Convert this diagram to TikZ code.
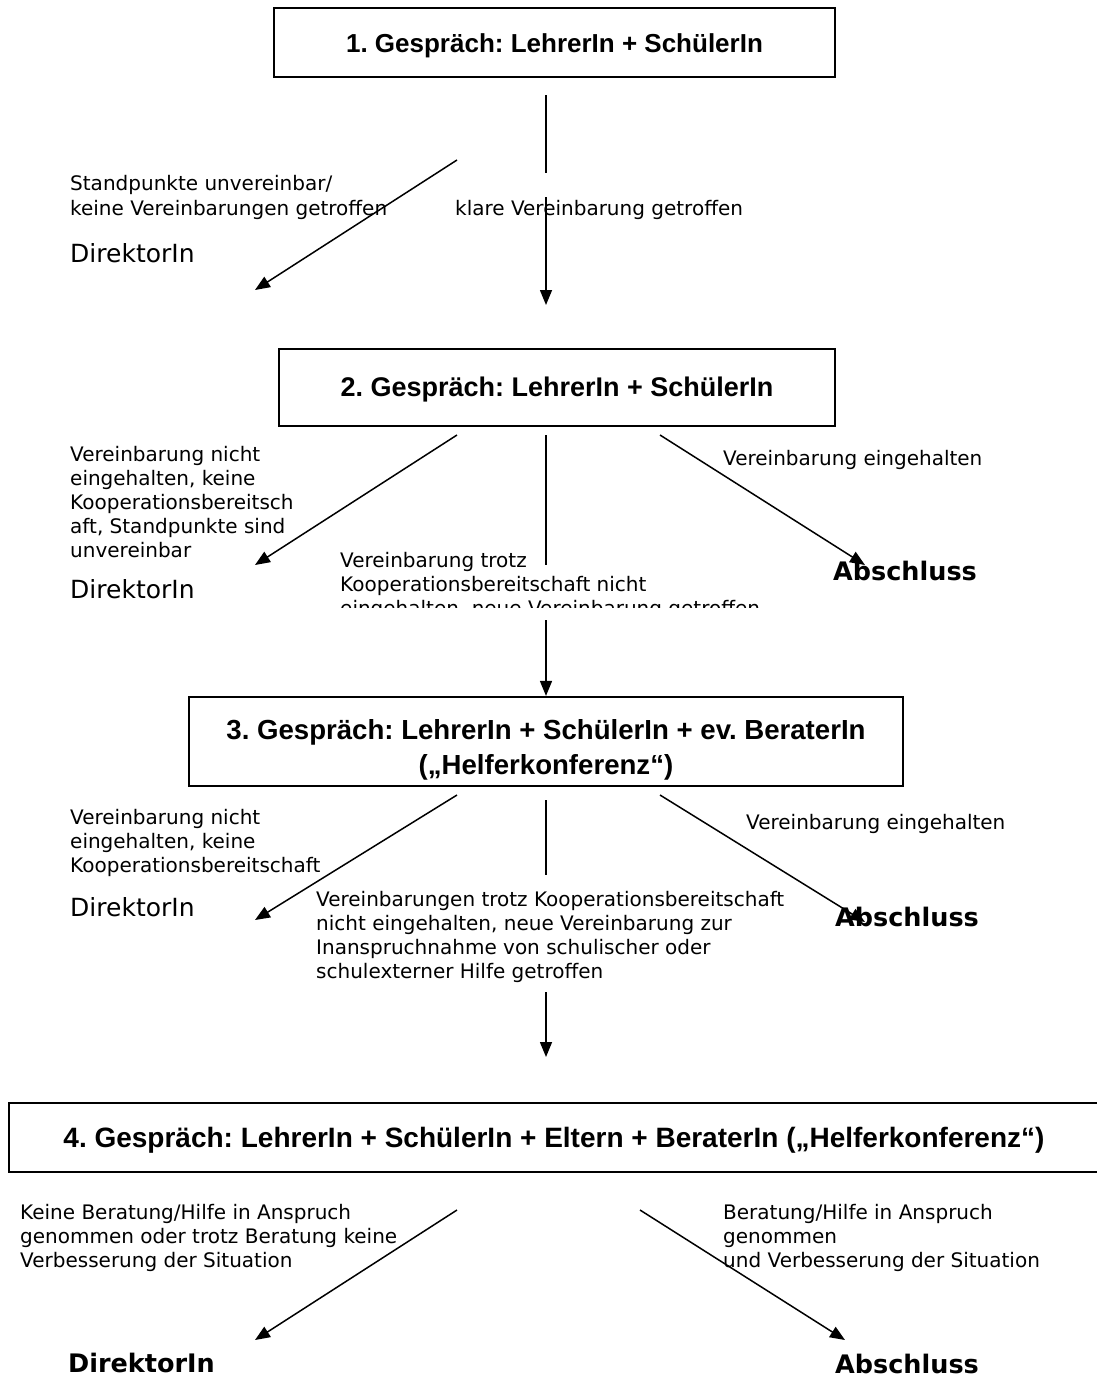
\documentclass[tikz,border=0pt]{standalone}
\usepackage{fontspec}
\setmainfont{DejaVu Sans}
\newfontfamily\arialfont{Liberation Sans}
\usetikzlibrary{arrows.meta}
\newcommand{\lowered}[2]{\raisebox{-#1}[\height][\depth]{#2}}
\frenchspacing
\begin{document}
\begin{tikzpicture}[x=1pt,y=-1pt,
  stage/.style={draw,line width=2.2pt,inner sep=0pt,align=center,font=\arialfont\bfseries\fontsize{27}{35}\selectfont},
  lbl/.style={anchor=north west,inner sep=0pt,align=left,font=\fontsize{20}{24}\selectfont},
  who/.style={anchor=base west,inner sep=0pt,font=\fontsize{25}{28}\selectfont},
  whob/.style={anchor=base west,inner sep=0pt,font=\bfseries\fontsize{25.5}{28}\selectfont},
  flow/.style={line width=1.5pt,-{Triangle[length=15pt,width=12pt]}},
  plain/.style={line width=1.5pt}]
\clip (0,0) rectangle (1097,1382);
\fill[white] (0,0) rectangle (1097,1382);

% boxes
\node[stage,minimum width=561pt,minimum height=69pt,font=\arialfont\bfseries\fontsize{26}{35}\selectfont] (g1) at (554.5,42.5) {\lowered{3pt}{1. Gespräch: LehrerIn + SchülerIn}};
\node[stage,minimum width=556pt,minimum height=77pt] (g2) at (557,387.5) {\lowered{2pt}{2. Gespräch: LehrerIn + SchülerIn}};
\node[stage,minimum width=714pt,minimum height=89pt,font=\arialfont\bfseries\fontsize{27.6}{35}\selectfont] (g3) at (546,741.5) {\lowered{8pt}{3. Gespräch: LehrerIn + SchülerIn + ev. BeraterIn}\\\lowered{8pt}{(„Helferkonferenz“)}};
\node[stage,minimum width=1090pt,minimum height=69pt,font=\arialfont\bfseries\fontsize{28}{35}\selectfont] (g4) at (554,1137.5) {\lowered{3pt}{4. Gespräch: LehrerIn + SchülerIn + Eltern + BeraterIn („Helferkonferenz“)}};

% row 1
\node[lbl] (l1a) at (70,175) {Standpunkte unvereinbar/\\[1pt]keine Vereinbarungen getroffen};
\node[who] (d1) at (70,262) {DirektorIn};
\node[lbl] (k1) at (455,200) {klare Vereinbarung getroffen};
\coordinate (a1s) at (546,95); \coordinate (a1e) at (546,173);
\coordinate (b1s) at (546,197); \coordinate (b1e) at (546,305);
\coordinate (c1s) at (457,160); \coordinate (c1e) at (255,290);
\draw[plain] (a1s) -- (a1e);
\draw[flow] (b1s) -- (b1e);
\draw[flow] (c1s) -- (c1e);

% row 2
\node[lbl] (l2a) at (70,446) {Vereinbarung nicht\\eingehalten, keine\\Kooperationsbereitsch\\aft, Standpunkte sind\\unvereinbar};
\node[who] (d2) at (70,598) {DirektorIn};
\node[lbl] (l2c) at (723,450) {Vereinbarung eingehalten};
\node[whob] (e2) at (833,580) {Abschluss};
\begin{scope}
\clip (300,540) rectangle (800,607);
\node[lbl] (l2b) at (340,552) {Vereinbarung trotz\\Kooperationsbereitschaft nicht\\eingehalten, neue Vereinbarung getroffen};
\end{scope}
\coordinate (c2s) at (457,435); \coordinate (c2e) at (255,565);
\coordinate (m2s) at (546,435); \coordinate (m2e) at (546,565);
\coordinate (r2s) at (660,435); \coordinate (r2e) at (865,565);
\coordinate (v2s) at (546,620); 
\draw[flow] (c2s) -- (c2e);
\draw[plain] (m2s) -- (m2e);
\draw[flow] (r2s) -- (r2e);
\draw[flow] (v2s) -- (g3.north);

% row 3
\node[lbl] (l3a) at (70,809) {Vereinbarung nicht\\eingehalten, keine\\Kooperationsbereitschaft};
\node[who] (d3) at (70,916) {DirektorIn};
\node[lbl] (l3c) at (746,814) {Vereinbarung eingehalten};
\node[whob] (e3) at (835,926) {Abschluss};
\node[lbl] (l3b) at (316,891) {Vereinbarungen trotz Kooperationsbereitschaft\\nicht eingehalten, neue Vereinbarung zur\\Inanspruchnahme von schulischer oder\\schulexterner Hilfe getroffen};
\coordinate (c3s) at (457,795); \coordinate (c3e) at (255,920);
\coordinate (m3s) at (546,800); \coordinate (m3e) at (546,875);
\coordinate (r3s) at (660,795); \coordinate (r3e) at (865,922);
\coordinate (v3s) at (546,992); \coordinate (v3e) at (546,1057);
\draw[flow] (c3s) -- (c3e);
\draw[plain] (m3s) -- (m3e);
\draw[flow] (r3s) -- (r3e);
\draw[flow] (v3s) -- (v3e);

% row 4
\node[lbl] (l4a) at (20,1204) {Keine Beratung/Hilfe in Anspruch\\genommen oder trotz Beratung keine\\Verbesserung der Situation};
\node[lbl] (l4b) at (723,1204) {Beratung/Hilfe in Anspruch\\genommen\\und Verbesserung der Situation};
\node[whob] (d4) at (68,1372) {DirektorIn};
\node[whob] (e4) at (835,1373) {Abschluss};
\coordinate (c4s) at (457,1210); \coordinate (c4e) at (255,1340);
\coordinate (r4s) at (640,1210); \coordinate (r4e) at (845,1340);
\draw[flow] (c4s) -- (c4e);
\draw[flow] (r4s) -- (r4e);
\end{tikzpicture}
\end{document}
